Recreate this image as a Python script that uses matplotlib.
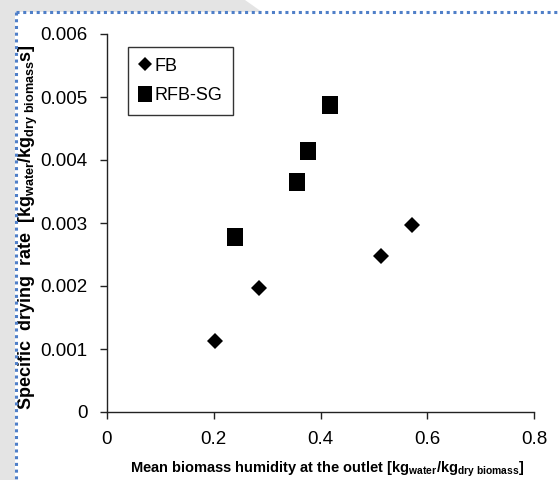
import matplotlib
matplotlib.use("Agg")
import matplotlib.pyplot as plt
from matplotlib import font_manager
from matplotlib.patches import Rectangle, Polygon
from matplotlib.lines import Line2D

# ---- data ----
fb_x = [0.202, 0.285, 0.513, 0.571]
fb_y = [0.00113, 0.00197, 0.00248, 0.00297]
rfb_x = [0.240, 0.356, 0.377, 0.417]
rfb_y = [0.00277, 0.00365, 0.00414, 0.00487]
x_ticks = [0, 0.2, 0.4, 0.6, 0.8]
x_tick_labels = ["0", "0.2", "0.4", "0.6", "0.8"]
y_ticks = [0, 0.001, 0.002, 0.003, 0.004, 0.005, 0.006]
y_tick_labels = ["0", "0.001", "0.002", "0.003", "0.004", "0.005", "0.006"]
series_names = ["FB", "RFB-SG"]

names = {f.name for f in font_manager.fontManager.ttflist}
narrow = "Liberation Sans Narrow" if "Liberation Sans Narrow" in names else "Liberation Sans"
plt.rcParams['font.family'] = [narrow, 'DejaVu Sans']
plt.rcParams['mathtext.fontset'] = 'custom'
plt.rcParams['mathtext.rm'] = 'Liberation Sans:bold'
plt.rcParams['mathtext.bf'] = 'Liberation Sans:bold'
plt.rcParams['mathtext.it'] = 'Liberation Sans:bold'

W, H = 558, 480
fig = plt.figure(figsize=(W / 100, H / 100), dpi=100)
fig.patch.set_facecolor("white")

# background decoration (grey margin + blue dotted frame)
def fx(px): return px / W
def fy(py): return 1 - py / H
grey = "#e4e4e4"
fig.patches.append(Rectangle((0, 0), fx(15), 1, transform=fig.transFigure,
                             facecolor=grey, edgecolor="none", zorder=0))
fig.patches.append(Polygon([(fx(0), fy(0)), (fx(245), fy(0)), (fx(262), fy(12)),
                            (fx(0), fy(12))], closed=True, transform=fig.transFigure,
                           facecolor=grey, edgecolor="none", zorder=0))
fig.add_artist(Line2D([fx(16), fx(16)], [fy(12), fy(480)], transform=fig.transFigure,
                      color="#4f7fc8", lw=2.2, linestyle=(0, (1, 1.2))))
fig.add_artist(Line2D([fx(16), fx(558)], [fy(12), fy(12)], transform=fig.transFigure,
                      color="#4f7fc8", lw=2.2, linestyle=(0, (1, 1.2))))

ax = fig.add_axes([107 / W, 1 - 412 / H, (534 - 107) / W, (412 - 34) / H])
ax.set_facecolor("none")

sq = [(-0.42, -0.5), (0.42, -0.5), (0.42, 0.5), (-0.42, 0.5), (-0.42, -0.5)]
h1, = ax.plot(fb_x, fb_y, linestyle="none", marker="D", ms=8.5, color="black",
              markeredgewidth=0, label=series_names[0], clip_on=False)
h2, = ax.plot(rfb_x, rfb_y, linestyle="none", marker=sq, ms=13, color="black",
              markeredgewidth=0, label=series_names[1], clip_on=False)

ax.set_xlim(0, 0.8)
ax.set_ylim(0, 0.006)
ax.set_xticks(x_ticks)
ax.set_xticklabels(x_tick_labels)
ax.set_yticks(y_ticks)
ax.set_yticklabels(y_tick_labels)
for s in ["top", "right"]:
    ax.spines[s].set_visible(False)
for s in ["left", "bottom"]:
    ax.spines[s].set_color("#222222")
    ax.spines[s].set_linewidth(1.0)
ax.tick_params(axis="both", direction="out", length=5, width=1, color="#222222",
               labelsize=13.5)
ax.tick_params(axis="x", pad=9)
ax.tick_params(axis="y", pad=9)

ax.set_xlabel(r"Mean biomass humidity at the outlet [kg$_{\mathrm{water}}$/kg$_{\mathrm{dry\ biomass}}$]",
              fontsize=10.5, fontweight="bold", family="Liberation Sans")
ax.xaxis.set_label_coords(0.515, -0.125)
ax.set_ylabel(r"Specific  drying  rate  [kg$_{\mathrm{water}}$/kg$_{\mathrm{dry\ biomass}}$s]",
              fontsize=13, fontweight="bold", family="Liberation Sans")
ax.yaxis.set_label_coords(-0.158, 0.49)

leg = ax.legend(handles=[h1, h2], loc="upper left", bbox_to_anchor=(0.049, 0.966),
                borderaxespad=0, frameon=True, fancybox=False, framealpha=1,
                edgecolor="#333333", fontsize=13, handlelength=0.7,
                handletextpad=0.15, borderpad=0.6, labelspacing=0.7)
leg.get_frame().set_linewidth(1.0)
leg.legend_handles[0].set_markersize(7.5)
leg.legend_handles[1].set_markersize(12)

fig.savefig("out.png", dpi=100)
